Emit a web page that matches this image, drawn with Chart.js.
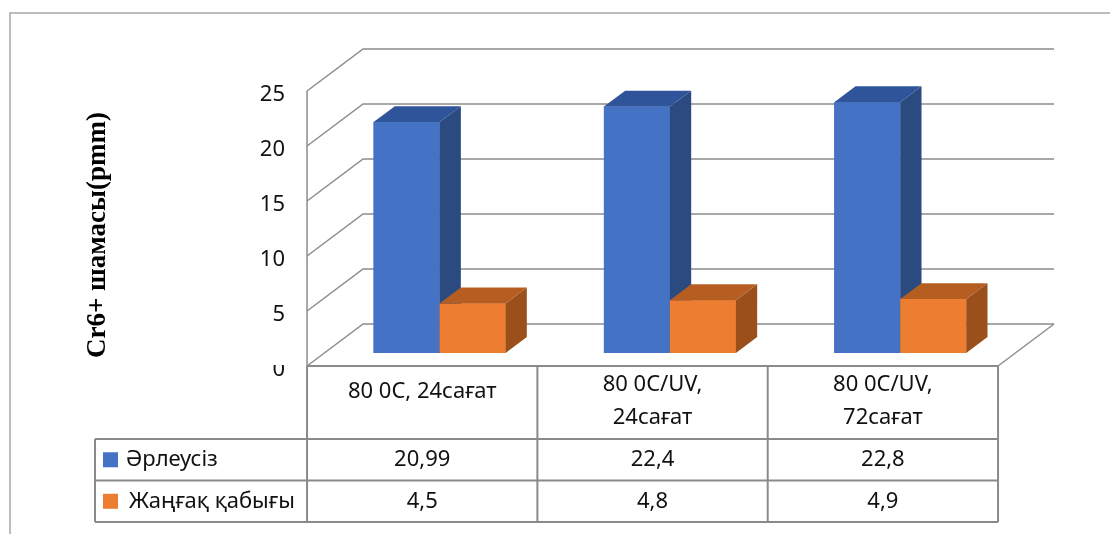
<!DOCTYPE html>
<html>
<head>
<meta charset="utf-8">
<script src="https://cdn.jsdelivr.net/npm/chart.js@4/dist/chart.umd.min.js"></script>
<style>
  html, body { margin: 0; padding: 0; background: #fff; }
  canvas { display: block; }
</style>
</head>
<body>
<canvas id="c" width="1110" height="534"></canvas>
<script>
// Categories (header cells of the data table), series and axis ticks
const categories = [['80 0C, 24сағат'], ['80 0C/UV,', '24сағат'], ['80 0C/UV,', '72сағат']];
const seriesNames = ['Әрлеусіз', 'Жаңғақ қабығы'];
const plainValues = [20.99, 22.4, 22.8];
const shellValues = [4.5, 4.8, 4.9];
const yTicks = [0, 5, 10, 15, 20, 25];
const axisTitle = 'Cr6+ шамасы(pmm)';

// Face colours of the 3D columns: front, right side, top
const faces = [
  { front: '#4472C4', side: '#2B4A80', top: '#30549A' },
  { front: '#ED7D31', side: '#9B501C', top: '#B65E22' }
];

// Depth of the 3D box (front plane -> back wall) and where the columns sit inside it
const DEPTH = { x: 56, y: -42 };
const BAR_FRONT = 0.31;
const BAR_BACK = 0.69;
const GRID = '#8c8c8c';
const TABLE_LINE = '#8a8a8a';
const FONT = '"Noto Sans", sans-serif';

const fmt = v => String(v).replace('.', ',');

function line(ctx, x1, y1, x2, y2) {
  ctx.beginPath();
  ctx.moveTo(x1, y1);
  ctx.lineTo(x2, y2);
  ctx.stroke();
}

function poly(ctx, pts, color) {
  ctx.beginPath();
  ctx.moveTo(pts[0][0], pts[0][1]);
  for (let i = 1; i < pts.length; i++) ctx.lineTo(pts[i][0], pts[i][1]);
  ctx.closePath();
  ctx.fillStyle = color;
  ctx.fill();
}

// Geometry of the front plane, derived from the chart's scales
function frontGeom(chart) {
  const { chartArea: a, scales: { x, y } } = chart;
  const sx = BAR_FRONT * DEPTH.x, sy = BAR_FRONT * DEPTH.y;
  return {
    x0: a.left - sx,
    x1: a.right - sx,
    fy: v => y.getPixelForValue(v) - sy,
    cx: i => x.getPixelForValue(i) - sx,
    colW: (a.right - a.left) / categories.length
  };
}

const box3d = {
  id: 'box3d',
  beforeDatasetsDraw(chart) {
    const ctx = chart.ctx;
    const g = frontGeom(chart);
    ctx.save();

    // outer frame
    ctx.strokeStyle = '#a6a6a6';
    ctx.lineWidth = 1.5;
    ctx.beginPath();
    ctx.moveTo(10, 534); ctx.lineTo(10, 13); ctx.lineTo(1110, 13);
    ctx.stroke();

    // side wall diagonals + back wall gridlines
    ctx.strokeStyle = GRID;
    ctx.lineWidth = 1.5;
    yTicks.forEach(v => {
      const yf = g.fy(v), yb = yf + DEPTH.y;
      ctx.beginPath();
      ctx.moveTo(g.x0, yf);
      ctx.lineTo(g.x0 + DEPTH.x, yb);
      ctx.lineTo(g.x1 + DEPTH.x, yb);
      ctx.stroke();
    });
    // front edge of side wall, right edge of floor
    line(ctx, g.x0, g.fy(yTicks[yTicks.length - 1]), g.x0, g.fy(0));
    line(ctx, g.x1, g.fy(0), g.x1 + DEPTH.x, g.fy(0) + DEPTH.y);

    // value axis tick labels
    ctx.fillStyle = '#111';
    ctx.font = '22px ' + FONT;
    ctx.textAlign = 'right';
    ctx.textBaseline = 'middle';
    yTicks.forEach(v => {
      const ty = g.fy(v) + 4;
      if (v === 0) {
        ctx.save();
        ctx.beginPath();
        ctx.rect(0, g.fy(0) - 1, 307, 40);
        ctx.clip();
        ctx.fillText(String(v), 285, ty);
        ctx.restore();
      } else {
        ctx.fillText(String(v), 285, ty);
      }
    });

    // axis title
    ctx.save();
    ctx.translate(98, 235);
    ctx.rotate(-Math.PI / 2);
    ctx.font = 'bold 27px "Liberation Serif", "Times New Roman", serif';
    ctx.textAlign = 'center';
    ctx.textBaseline = 'middle';
    ctx.fillStyle = '#000';
    ctx.fillText(axisTitle, 0, 0);
    ctx.restore();

    ctx.restore();
  },
  afterDatasetsDraw(chart) {
    const ctx = chart.ctx;
    const dx = (BAR_BACK - BAR_FRONT) * DEPTH.x;
    const dy = (BAR_BACK - BAR_FRONT) * DEPTH.y;
    ctx.save();
    for (let i = 0; i < categories.length; i++) {
      chart.data.datasets.forEach((ds, d) => {
        const el = chart.getDatasetMeta(d).data[i];
        const p = el.getProps(['x', 'y', 'base', 'width'], true);
        const l = p.x - p.width / 2, r = p.x + p.width / 2;
        const t = p.y, b = p.base;
        const f = faces[d];
        poly(ctx, [[l, t], [r, t], [r, b], [l, b]], f.front);
        poly(ctx, [[r, t], [r + dx, t + dy], [r + dx, b + dy], [r, b]], f.side);
        poly(ctx, [[l, t], [l + dx, t + dy], [r + dx, t + dy], [r, t]], f.top);
      });
    }
    ctx.restore();
  },
  afterDraw(chart) {
    const ctx = chart.ctx;
    const g = frontGeom(chart);
    const top = g.fy(0);
    const headBottom = top + 73;
    const rowH = 41.5;
    const tLeft = 95;
    const bottom = headBottom + rowH * seriesNames.length;
    ctx.save();
    ctx.strokeStyle = TABLE_LINE;
    ctx.lineWidth = 2;
    // header row
    line(ctx, g.x0, top, g.x1, top);
    // series rows
    for (let k = 0; k <= seriesNames.length; k++) {
      const yy = headBottom + rowH * k;
      line(ctx, tLeft, yy, g.x1, yy);
    }
    line(ctx, tLeft, headBottom, tLeft, bottom);
    for (let i = 0; i <= categories.length; i++) {
      const xx = g.x0 + g.colW * i;
      line(ctx, xx, top, xx, bottom);
    }

    ctx.fillStyle = '#111';
    ctx.font = '22px ' + FONT;
    ctx.textAlign = 'center';
    ctx.textBaseline = 'middle';
    // category headers
    categories.forEach((lab, i) => {
      const cx = g.cx(i);
      if (lab.length === 1) {
        ctx.fillText(lab[0], cx, top + 26);
      } else {
        lab.forEach((s, j) => ctx.fillText(s, cx, top + 19 + 33 * j));
      }
    });
    // series rows: legend key, name, values
    const seriesVals = [plainValues, shellValues];
    seriesNames.forEach((name, k) => {
      const cy = headBottom + rowH * k + rowH / 2;
      ctx.fillStyle = faces[k].front;
      ctx.fillRect(103, cy - 7.5, 15, 15);
      ctx.fillStyle = '#111';
      ctx.textAlign = 'left';
      ctx.fillText(name, k === 0 ? 126 : 129, cy);
      ctx.textAlign = 'center';
      seriesVals[k].forEach((v, i) => ctx.fillText(fmt(v), g.cx(i), cy));
    });
    ctx.restore();
  }
};

// chart area = plane of the column front faces
const AREA = { left: 324.4, right: 1015.4, top: 78, bottom: 353 };

function build() {
  new Chart(document.getElementById('c'), {
    type: 'bar',
    data: {
      labels: categories,
      datasets: [
        { label: seriesNames[0], data: plainValues, backgroundColor: faces[0].front },
        { label: seriesNames[1], data: shellValues, backgroundColor: faces[1].front }
      ]
    },
    options: {
      responsive: false,
      animation: false,
      devicePixelRatio: 1,
      layout: {
        padding: { left: AREA.left, right: 1110 - AREA.right, top: AREA.top, bottom: 534 - AREA.bottom }
      },
      datasets: { bar: { categoryPercentage: 0.573, barPercentage: 1, borderWidth: 0 } },
      scales: {
        x: { display: false, offset: true },
        y: { display: false, min: 0, max: 25 }
      },
      plugins: { legend: { display: false }, tooltip: { enabled: false }, title: { display: false } }
    },
    plugins: [box3d]
  });
}

Promise.all([
  document.fonts.load('22px "Noto Sans"'),
  document.fonts.load('bold 27px "Liberation Serif"')
]).then(build, build);
</script>
</body>
</html>
